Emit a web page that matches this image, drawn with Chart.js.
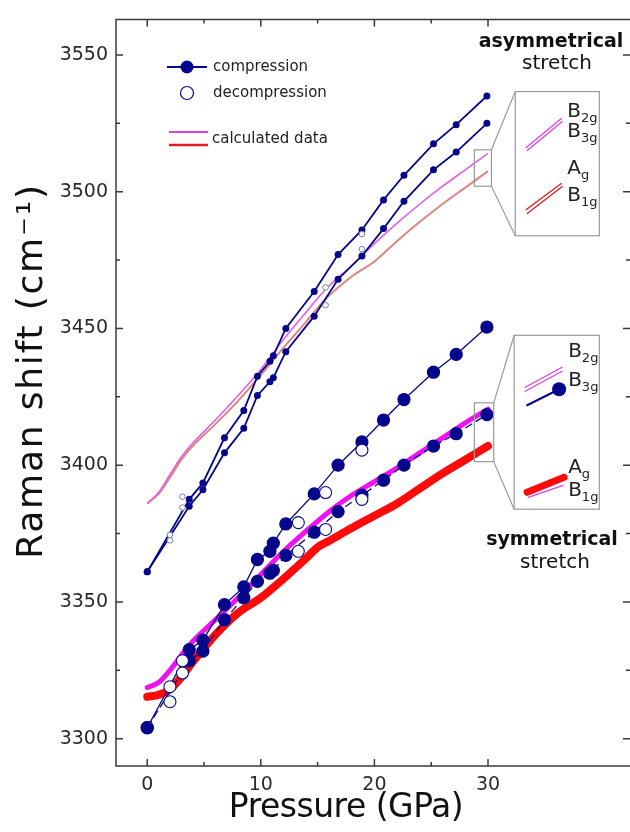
<!DOCTYPE html>
<html>
<head>
<meta charset="utf-8">
<script src="https://cdn.jsdelivr.net/npm/chart.js@4.4.1/dist/chart.umd.min.js"></script>
<style>
  html, body { margin: 0; padding: 0; background: #fff; }
  #wrap { width: 630px; height: 832px; }
</style>
</head>
<body>
<div id="wrap"><canvas id="chart" width="630" height="832"></canvas></div>
<script>
// compression runs (GPa) and peak positions (cm-1)
const compP = [0, 3.7, 4.9, 6.8, 8.5, 9.7, 10.8, 11.1, 12.2, 14.7, 16.8, 18.9, 20.8, 22.6, 25.2, 27.2, 29.9];
const asymCompA = [3361, 3387.5, 3393.5, 3410, 3420, 3432.5, 3438, 3440, 3450, 3463.5, 3477, 3486, 3497, 3506, 3517.5, 3524.5, 3535];
const asymCompB = [3361, 3385, 3391, 3404.5, 3413.5, 3425.5, 3430.5, 3432, 3441.5, 3454.5, 3468, 3476.5, 3486.5, 3496.5, 3508, 3514.5, 3525];
const symCompA = [3304, 3332.5, 3336, 3349, 3355.5, 3365.5, 3368.5, 3371.5, 3378.5, 3389.5, 3400, 3408.5, 3416.5, 3424, 3434, 3440.5, 3450.5];
const symCompB = [3304, 3328.5, 3332, 3343.5, 3351.5, 3357.5, 3360.5, 3361.5, 3367, 3375.5, 3383, 3389, 3394.5, 3400, 3407, 3411.5, 3418.5];

// decompression
const symDecompP = [2.0, 3.1, 13.3, 15.7, 18.9];
const symDecompA = [3319, 3328.5, 3379, 3390, 3405.5];
const symDecompB = [3313.5, 3324, 3368.5, 3376.5, 3387.5];
const asymDecompP = [2.0, 3.1, 15.7, 18.9];
const asymDecompA = [3374.5, 3388.5, 3465, 3484.5];
const asymDecompB = [3372.5, 3384.5, 3458.5, 3479];

// calculated data
const calcP = [0, 1, 2, 3, 4, 6, 8, 10, 12, 14, 15, 16, 18, 20, 22, 24, 26, 28, 30];
const asymCalcB = [3386, 3390, 3396.5, 3403, 3408, 3416.5, 3425.5, 3435, 3446, 3456, 3461, 3465.5, 3473, 3481, 3488.5, 3495.5, 3502, 3508, 3514];
const asymCalcA = [3386, 3389.5, 3395.5, 3402, 3407, 3415, 3423.5, 3433, 3443, 3452.5, 3457.5, 3462, 3469, 3474.5, 3482, 3489, 3495.5, 3501.5, 3507.5];
const symCalcB = [3318.7, 3320.5, 3325, 3330.5, 3335.5, 3343.5, 3351.5, 3360, 3368.5, 3376, 3379.5, 3383, 3389, 3394, 3399, 3404.5, 3410, 3415.5, 3420.5];
const symCalcA = [3315.3, 3316, 3318, 3322.5, 3328, 3338, 3346, 3351.5, 3358.5, 3366, 3370, 3372.3, 3377, 3381.5, 3386, 3391.5, 3397, 3402, 3407];

const xLabels = [0, 10, 20, 30];
const yLabels = [3300, 3350, 3400, 3450, 3500, 3550];

const NAVY = '#06068c';
const pts = (xs, ys) => xs.map((v, i) => ({ x: v, y: ys[i] }));

Chart.defaults.font.family = 'DejaVu Sans';

const frame = {
  id: 'frame',
  afterDraw(chart) {
    const { ctx, chartArea: a, scales: { x, y } } = chart;
    ctx.save();
    ctx.strokeStyle = '#3a3a3a';
    ctx.lineWidth = 1.5;
    ctx.beginPath();
    ctx.moveTo(a.right, a.top); ctx.lineTo(a.left, a.top);
    ctx.lineTo(a.left, a.bottom); ctx.lineTo(a.right, a.bottom);
    for (let v = 0; v <= 30; v += 5) {
      const px = x.getPixelForValue(v);
      const len = v % 10 === 0 ? 7 : 4;
      ctx.moveTo(px, a.bottom); ctx.lineTo(px, a.bottom - len);
      ctx.moveTo(px, a.top); ctx.lineTo(px, a.top + len);
    }
    for (let v = 3300; v <= 3550; v += 25) {
      const py = y.getPixelForValue(v);
      const len = v % 50 === 0 ? 7 : 4;
      ctx.moveTo(a.left, py); ctx.lineTo(a.left + len, py);
      ctx.moveTo(a.right, py); ctx.lineTo(a.right - len, py);
    }
    ctx.stroke();

    // axis titles
    ctx.fillStyle = '#111';
    ctx.textAlign = 'center';
    ctx.textBaseline = 'middle';
    ctx.font = '33px "DejaVu Sans"';
    ctx.letterSpacing = '-0.5px';
    ctx.fillText('Pressure (GPa)', 346, 808);
    ctx.save();
    ctx.translate(33, 371);
    ctx.rotate(-Math.PI / 2);
    ctx.font = '36px "DejaVu Sans"';
    ctx.letterSpacing = '1.8px';
    ctx.fillText('Raman shift (cm\u207B\u00B9)', 0, 0);
    ctx.restore();
    ctx.letterSpacing = '0px';

    // legend
    ctx.lineWidth = 2;
    ctx.strokeStyle = NAVY;
    ctx.beginPath(); ctx.moveTo(167, 67); ctx.lineTo(207, 67); ctx.stroke();
    ctx.fillStyle = NAVY;
    ctx.beginPath(); ctx.arc(187, 67, 6.5, 0, Math.PI * 2); ctx.fill();
    ctx.lineWidth = 1.2;
    ctx.fillStyle = '#fff';
    ctx.beginPath(); ctx.arc(187, 93, 6.5, 0, Math.PI * 2); ctx.fill(); ctx.stroke();
    ctx.lineWidth = 2;
    ctx.strokeStyle = '#e040e0';
    ctx.beginPath(); ctx.moveTo(169, 132); ctx.lineTo(208, 132); ctx.stroke();
    ctx.strokeStyle = '#e8191e';
    ctx.lineWidth = 2.5;
    ctx.beginPath(); ctx.moveTo(169, 145); ctx.lineTo(208, 145); ctx.stroke();
    ctx.fillStyle = '#222';
    ctx.textAlign = 'left';
    ctx.font = '15px "DejaVu Sans"';
    ctx.fillText('compression', 213, 67);
    ctx.fillText('decompression', 213, 93);
    ctx.fillText('calculated data', 212, 139);

    // mode labels
    ctx.textAlign = 'center';
    ctx.fillStyle = '#111';
    ctx.font = 'bold 19px "DejaVu Sans"';
    ctx.fillText('asymmetrical', 551, 42);
    ctx.fillText('symmetrical', 552, 540);
    ctx.font = '20px "DejaVu Sans"';
    ctx.fillText('stretch', 557, 64);
    ctx.fillText('stretch', 555, 563);
    ctx.restore();
  }
};

// zoom insets: small box on the data, enlarged box to the right
const insets = [
  { zoom: [28.8, 30.3, 3502, 3515.3], box: [32.4, 39.8, 3483.9, 3536.6], kind: 'asym' },
  { zoom: [28.8, 30.5, 3401.3, 3422.8], box: [32.3, 39.8, 3383.9, 3447.5], kind: 'sym' }
];

function label(ctx, main, sub, x, y) {
  ctx.font = '20px "DejaVu Sans"';
  ctx.fillText(main, x, y);
  const w = ctx.measureText(main).width;
  ctx.font = '13px "DejaVu Sans"';
  ctx.fillText(sub, x + w, y + 5);
}

function seg(ctx, x1, y1, x2, y2, color, width) {
  ctx.strokeStyle = color;
  ctx.lineWidth = width;
  ctx.beginPath(); ctx.moveTo(x1, y1); ctx.lineTo(x2, y2); ctx.stroke();
}

const insetPlugin = {
  id: 'insets',
  afterDraw(chart) {
    const { ctx, scales: { x, y } } = chart;
    ctx.save();
    insets.forEach(ins => {
      const zl = x.getPixelForValue(ins.zoom[0]), zr = x.getPixelForValue(ins.zoom[1]);
      const zb = y.getPixelForValue(ins.zoom[2]), zt = y.getPixelForValue(ins.zoom[3]);
      const bl = x.getPixelForValue(ins.box[0]), br = x.getPixelForValue(ins.box[1]);
      const bb = y.getPixelForValue(ins.box[2]), bt = y.getPixelForValue(ins.box[3]);
      ctx.strokeStyle = '#9a9a9a';
      ctx.lineWidth = 1.2;
      ctx.strokeRect(zl, zt, zr - zl, zb - zt);
      ctx.fillStyle = '#fff';
      ctx.fillRect(bl, bt, br - bl, bb - bt);
      ctx.strokeRect(bl, bt, br - bl, bb - bt);
      ctx.beginPath();
      ctx.moveTo(zr, zt); ctx.lineTo(bl, bt);
      ctx.moveTo(zr, zb); ctx.lineTo(bl, bb);
      ctx.stroke();

      ctx.lineCap = 'round';
      ctx.fillStyle = '#222';
      ctx.textAlign = 'left';
      ctx.textBaseline = 'alphabetic';
      if (ins.kind === 'asym') {
        seg(ctx, bl + 11, bt + 56, bl + 46, bt + 27, '#e040e0', 1.3);
        seg(ctx, bl + 12, bt + 59, bl + 47, bt + 30, '#e040e0', 1.3);
        seg(ctx, bl + 11, bt + 118, bl + 46, bt + 92, '#e8191e', 1.3);
        seg(ctx, bl + 12, bt + 122, bl + 47, bt + 95, '#e8191e', 1.3);
        ctx.fillStyle = '#222';
        label(ctx, 'B', '2g', bl + 52, bt + 25);
        label(ctx, 'B', '3g', bl + 52, bt + 45);
        label(ctx, 'A', 'g', bl + 52, bt + 82);
        label(ctx, 'B', '1g', bl + 52, bt + 109);
      } else {
        seg(ctx, bl + 11, bt + 52, bl + 48, bt + 32, '#e040e0', 1.3);
        seg(ctx, bl + 11, bt + 56, bl + 48, bt + 36, '#e040e0', 1.3);
        seg(ctx, bl + 13, bt + 70, bl + 45, bt + 54, NAVY, 2);
        ctx.fillStyle = NAVY;
        ctx.beginPath(); ctx.arc(bl + 45, bt + 54, 7, 0, Math.PI * 2); ctx.fill();
        seg(ctx, bl + 14, bt + 162, bl + 49, bt + 150, '#e040e0', 1.3);
        seg(ctx, bl + 13, bt + 157, bl + 50, bt + 142, '#ff0a0a', 7);
        ctx.fillStyle = '#222';
        label(ctx, 'B', '2g', bl + 54, bt + 22);
        label(ctx, 'B', '3g', bl + 54, bt + 51);
        label(ctx, 'A', 'g', bl + 54, bt + 138);
        label(ctx, 'B', '1g', bl + 54, bt + 161);
      }
    });
    ctx.restore();
  }
};

const ctx = document.getElementById('chart').getContext('2d');
new Chart(ctx, {
  type: 'scatter',
  data: {
    datasets: [
      { data: pts(symDecompP, symDecompA), pointRadius: 6, pointBackgroundColor: '#fff', pointBorderColor: NAVY, pointBorderWidth: 1.1, showLine: false, order: 0 },
      { data: pts(symDecompP, symDecompB), pointRadius: 6, pointBackgroundColor: '#fff', pointBorderColor: NAVY, pointBorderWidth: 1.1, showLine: false, order: 0 },
      { data: pts(compP, symCompA), showLine: true, borderColor: NAVY, borderWidth: 1.3, pointRadius: 6, pointBackgroundColor: NAVY, pointBorderColor: NAVY, order: 1 },
      { data: pts(compP, symCompB), showLine: true, borderColor: NAVY, borderWidth: 1.3, borderDash: [8, 4], pointRadius: 6, pointBackgroundColor: NAVY, pointBorderColor: NAVY, order: 2 },
      { data: pts(asymDecompP, asymDecompA), pointRadius: 2.8, pointBackgroundColor: '#fff', pointBorderColor: '#7c7cab', pointBorderWidth: 1, showLine: false, order: 3 },
      { data: pts(asymDecompP, asymDecompB), pointRadius: 2.8, pointBackgroundColor: '#fff', pointBorderColor: '#7c7cab', pointBorderWidth: 1, showLine: false, order: 3 },
      { data: pts(compP, asymCompA), showLine: true, borderColor: NAVY, borderWidth: 1.8, pointRadius: 2.6, pointBackgroundColor: NAVY, pointBorderColor: NAVY, order: 4 },
      { data: pts(compP, asymCompB), showLine: true, borderColor: NAVY, borderWidth: 1.8, pointRadius: 2.6, pointBackgroundColor: NAVY, pointBorderColor: NAVY, order: 4 },
      { data: pts(calcP, symCalcB), showLine: true, borderColor: '#f010f0', borderWidth: 5, pointRadius: 0, cubicInterpolationMode: 'monotone', borderCapStyle: 'round', order: 5 },
      { data: pts(calcP, symCalcA), showLine: true, borderColor: '#ff0a0a', borderWidth: 8, pointRadius: 0, cubicInterpolationMode: 'monotone', borderCapStyle: 'round', order: 6 },
      { data: pts(calcP, asymCalcB), showLine: true, borderColor: '#e35ee3', borderWidth: 1.6, pointRadius: 0, cubicInterpolationMode: 'monotone', order: 7 },
      { data: pts(calcP, asymCalcA), showLine: true, borderColor: '#dc8580', borderWidth: 2, pointRadius: 0, cubicInterpolationMode: 'monotone', order: 8 }
    ]
  },
  options: {
    responsive: false,
    animation: false,
    devicePixelRatio: 1,
    layout: { autoPadding: false, padding: { top: 14, right: 0, left: 0, bottom: 0 } },
    plugins: {
      legend: { display: false },
      tooltip: { enabled: false }
    },
    scales: {
      x: {
        type: 'linear',
        min: -2.75,
        max: 42.5,
        grid: { display: false, drawTicks: false },
        border: { display: false },
        afterBuildTicks: s => { s.ticks = xLabels.map(v => ({ value: v })); },
        afterFit: s => { s.height = 66; },
        ticks: { color: '#2a2a2a', font: { size: 19 }, padding: 8, callback: v => String(v) }
      },
      y: {
        type: 'linear',
        min: 3290,
        max: 3563,
        grid: { display: false, drawTicks: false },
        border: { display: false },
        afterBuildTicks: s => { s.ticks = yLabels.map(v => ({ value: v })); },
        afterFit: s => { s.width = 116; },
        ticks: { color: '#2a2a2a', font: { size: 19 }, padding: 8, callback: v => String(v) }
      }
    }
  },
  plugins: [frame, insetPlugin]
});
</script>
</body>
</html>
